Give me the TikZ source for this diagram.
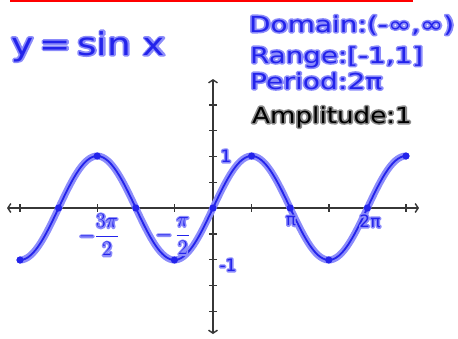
\documentclass[tikz,border=0pt]{standalone}
\usepackage{fontspec}
\setmainfont{DejaVu Sans}
\usetikzlibrary{arrows.meta}
\definecolor{pen}{RGB}{35,35,235}
\definecolor{halo}{RGB}{140,140,250}
\definecolor{axisgray}{RGB}{55,55,55}
\newcommand{\hw}[1]{\rlap{\textcolor{halo}{\special{pdf:literal direct 1 Tr 3 w 1 j}#1\special{pdf:literal direct 0 Tr}}}\textcolor{pen}{#1}}
\newcommand{\hwk}[1]{\rlap{\textcolor{black!45}{\special{pdf:literal direct 1 Tr 3 w 1 j}#1\special{pdf:literal direct 0 Tr}}}\textcolor{black}{#1}}
\tikzset{
  axisline/.style={axisgray, line width=1.6pt},
  tickmark/.style={axisgray, line width=1.4pt},
  barb/.style={-{Straight Barb[length=3pt,width=9pt,line width=1.4pt]}},
  hwtext/.style={inner sep=0pt, anchor=base west},
  ticklabel/.style={inner sep=0pt, font=\fontsize{17}{18}\selectfont},
  curvehalo/.style={halo, line width=7pt, line cap=round},
  curvepen/.style={pen, line width=1.8pt, line cap=round},
}
\begin{document}
\begin{tikzpicture}[x=1pt,y=-1pt]
\useasboundingbox (0,0) rectangle (458,338);
% red line at top
\coordinate (rl) at (10,0.8);
\coordinate (rr) at (413,0.8);
\draw[red, line width=2.6pt] (rl) -- (rr);
% texts
\node[hwtext, font=\fontsize{30}{32}\selectfont] (title) at (11,55) {\hw{\scalebox{1.25}[1.05]{y\,=\,sin x}}};
\node[hwtext, font=\fontsize{22}{24}\selectfont] (domain) at (249,32) {\hw{\scalebox{1.27}[1]{Domain:(-∞,∞)}}};
\node[hwtext, font=\fontsize{22}{24}\selectfont] (range) at (250,63) {\hw{\scalebox{1.26}[1]{Range:[-1,1]}}};
\node[hwtext, font=\fontsize{22}{24}\selectfont] (period) at (250,89) {\hw{\scalebox{1.28}[1]{Period:2π}}};
\node[hwtext, font=\fontsize{22}{24}\selectfont] (ampl) at (252,123) {\hwk{\scalebox{1.19}[1]{Amplitude:1}}};
% axes
\coordinate (xl) at (7,208);
\coordinate (xr) at (419,208);
\coordinate (yt) at (213,79);
\coordinate (yb) at (213,334);
\draw[axisline, barb] (213,208) -- (xl);
\draw[axisline, barb] (213,208) -- (xr);
\draw[axisline, barb] (213,208) -- (yt);
\draw[axisline, barb] (213,208) -- (yb);
\foreach \k in {-5,...,-1,1,2,...,5}
  \draw[tickmark] ({213+38.6*\k},204) -- ({213+38.6*\k},212);
\foreach \k in {-4,...,-1,1,2,...,4}
  \draw[tickmark] (209,{208+25.8*\k}) -- (217,{208+25.8*\k});
% curve
\draw[curvehalo] plot[domain=-7.854:7.854, samples=150, smooth] ({213+24.57*\x}, {208-52*sin(\x r)});
\draw[curvepen] plot[domain=-7.854:7.854, samples=150, smooth] ({213+24.57*\x}, {208-52*sin(\x r)});
\foreach \k in {-5,...,5}
  \fill[pen] ({213+38.6*\k}, {208-52*sin(90*\k)}) circle (3.6);
% tick labels
\node[ticklabel, font=\fontsize{21}{22}\selectfont] (l3pi) at (99,235) {\hw{$\displaystyle-\frac{3\pi}{2}$}};
\node[ticklabel, font=\fontsize{21}{22}\selectfont] (lpi2) at (173,236) {\hw{$\displaystyle-\,\frac{\pi}{2}$}};
\node[ticklabel] (lpi) at (291,221) {\hw{π}};
\node[ticklabel] (l2pi) at (370,221) {\hw{2π}};
\node[ticklabel] (lone) at (226,156) {\hw{1}};
\node[ticklabel] (lmone) at (228,265) {\hw{-1}};
\end{tikzpicture}
\end{document}
